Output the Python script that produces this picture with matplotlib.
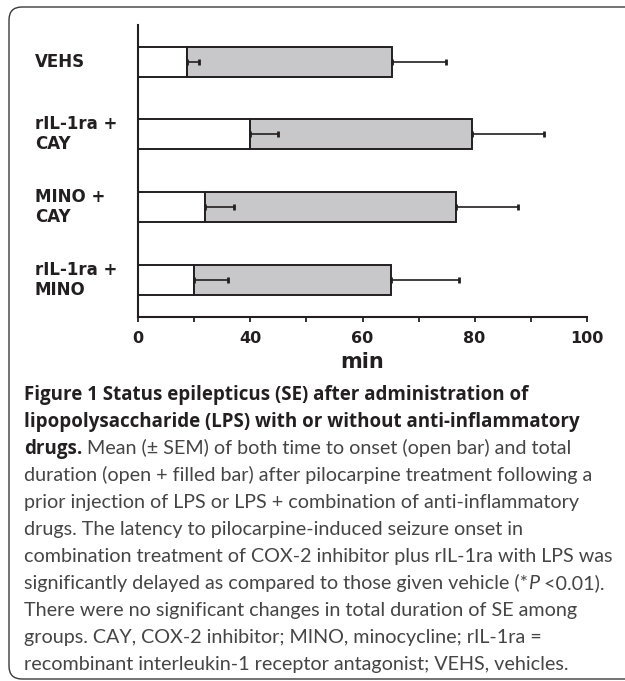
import numpy as np
import matplotlib
matplotlib.use("Agg")
import matplotlib.pyplot as plt
from matplotlib.patches import FancyBboxPatch
from matplotlib import transforms

# group labels, top to bottom
groups = ["VEHS", "rIL-1ra +\nCAY", "MINO +\nCAY", "rIL-1ra +\nMINO"]

# mean time to onset and total duration (min), with SEM
onset = [17.5, 40.0, 23.8, 19.9]
onset_sem = [4.2, 4.9, 10.5, 12.2]
total = [65.2, 79.5, 76.6, 65.0]
total_sem = [9.7, 12.8, 11.2, 12.2]

# x axis as printed: ticks and labels
tick_vals = [0, 20, 40, 50, 60, 70, 80, 90, 100]
tick_text = ["0", "", "40", "", "60", "", "80", "", "100"]

# caption, one list of (text, style) runs per line
caption = [
    [("Figure 1 Status epilepticus (SE) after administration of", "b")],
    [("lipopolysaccharide (LPS) with or without anti-inflammatory", "b")],
    [("drugs.", "b"), (" Mean (\u00b1 SEM) of both time to onset (open bar) and total", "r")],
    [("duration (open + filled bar) after pilocarpine treatment following a", "r")],
    [("prior injection of LPS or LPS + combination of anti-inflammatory", "r")],
    [("drugs. The latency to pilocarpine-induced seizure onset in", "r")],
    [("combination treatment of COX-2 inhibitor plus rIL-1ra with LPS was", "r")],
    [("significantly delayed as compared to those given vehicle (*", "r"), ("P", "i"), (" <0.01).", "r")],
    [("There were no significant changes in total duration of SE among", "r")],
    [("groups. CAY, COX-2 inhibitor; MINO, minocycline; rIL-1ra =", "r")],
    [("recombinant interleukin-1 receptor antagonist; VEHS, vehicles.", "r")],
]

dark = "#231f20"
grey_fill = "#c8c8ca"
W, H = 625, 681

fig = plt.figure(figsize=(W / 100, H / 100), dpi=100)

# background axes in pixel units for the frame and caption
bg = fig.add_axes([0, 0, 1, 1], zorder=0)
bg.set_xlim(0, W)
bg.set_ylim(H, 0)
bg.axis("off")
bg.add_patch(FancyBboxPatch((9, 7), 660, 672, boxstyle="round,pad=0,rounding_size=13",
                            fc="white", ec="#3a3a3a", lw=1.0))

# the chart itself, with a piecewise x scale that matches the printed axis
def fwd(v):
    v = np.asarray(v, dtype=float)
    return np.where(v <= 40, v / 20.0, 2 + (v - 40) / 10.0)

def inv(p):
    p = np.asarray(p, dtype=float)
    return np.where(p <= 2, p * 20.0, 40 + (p - 2) * 10.0)

ax = fig.add_axes([138.3 / W, 1 - 316.7 / H, (586.7 - 138.3) / W, (316.7 - 25) / H], zorder=1)
ax.patch.set_alpha(0)
ax.set_xscale("function", functions=(fwd, inv))

y = np.arange(len(groups))
bar_h = 0.41
ax.barh(y, onset, height=bar_h, color="white", edgecolor=dark, linewidth=1.4, zorder=2)
ax.barh(y, np.array(total) - np.array(onset), left=onset, height=bar_h,
        color=grey_fill, edgecolor=dark, linewidth=1.4, zorder=2)
ax.errorbar(onset, y, xerr=[np.zeros(len(y)), onset_sem], fmt="none", ecolor=dark,
            elinewidth=1.2, capsize=2.5, capthick=2.0, zorder=3)
ax.errorbar(total, y, xerr=[np.zeros(len(y)), total_sem], fmt="none", ecolor=dark,
            elinewidth=1.2, capsize=2.5, capthick=2.0, zorder=3)

ax.set_xlim(0, 100)
ax.set_ylim(3.51, -0.505)
ax.set_xticks(tick_vals)
ax.set_xticklabels(tick_text, fontsize=11.5, fontweight="bold", color=dark)
ax.xaxis.set_minor_locator(matplotlib.ticker.NullLocator())
ax.tick_params(axis="x", direction="out", length=3.5, width=1.3, color=dark, pad=7)
ax.set_yticks([])
for s in ["top", "right"]:
    ax.spines[s].set_visible(False)
for s in ["left", "bottom"]:
    ax.spines[s].set_color(dark)
    ax.spines[s].set_linewidth(1.5)

# group labels, left aligned in the frame
blend = transforms.blended_transform_factory(bg.transData, ax.transData)
for yi, g in zip(y, groups):
    bg.text(35, yi, g, transform=blend, ha="left", va="center", fontsize=12,
            fontweight="bold", color=dark, linespacing=1.15)

bg.text(362.5, 362, "min", ha="center", va="center", fontsize=15,
        fontweight="bold", color=dark)

# caption, drawn run by run
styles = {"b": dict(family=["Open Sans", "DejaVu Sans"], fontweight="bold",
                    fontsize=13.5, color="#231f20"),
          "r": dict(family=["Lato", "DejaVu Sans"], fontweight="normal",
                    fontsize=14.2, color="#454545"),
          "i": dict(family=["Lato", "DejaVu Sans"], fontweight="normal", style="italic",
                    fontsize=14.2, color="#454545")}
renderer = fig.canvas.get_renderer()
base0, pitch = 400, 27.0
for i, runs in enumerate(caption):
    x = 24
    for txt, st in runs:
        t = bg.text(x, base0 + i * pitch, txt, ha="left", va="baseline", **styles[st])
        x += t.get_window_extent(renderer).width

fig.savefig("out.png", dpi=100)
